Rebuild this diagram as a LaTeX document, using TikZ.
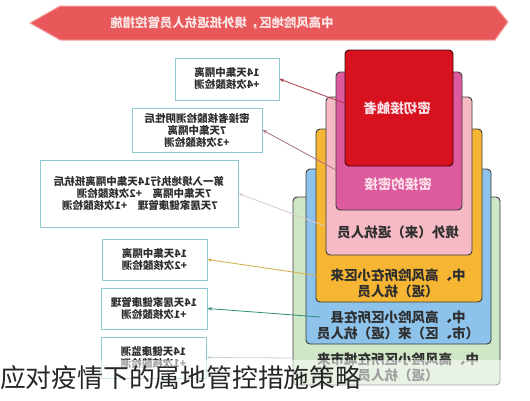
\documentclass[tikz,border=0pt]{standalone}
\usepackage{graphicx}
\usepackage{fontspec}
\newfontfamily\cjk{Noto Sans CJK SC}
\usetikzlibrary{arrows.meta}
\definecolor{bannerred}{HTML}{E8585A}
\definecolor{bannerline}{HTML}{F4A3A3}
\definecolor{titletxt}{HTML}{FBE6E6}
\definecolor{cred}{HTML}{D7111D}
\definecolor{cpink}{HTML}{DE5A9E}
\definecolor{clpink}{HTML}{F5BAC4}
\definecolor{corange}{HTML}{F6B634}
\definecolor{cblue}{HTML}{8DC2EB}
\definecolor{cgreen}{HTML}{CFE6C7}
\definecolor{nestline}{HTML}{3A3A3A}
\definecolor{lighttxt}{HTML}{FBE0E8}
\definecolor{darktxt}{HTML}{2E2E2E}
\definecolor{boxline}{HTML}{8FC9CF}
\definecolor{aone}{HTML}{A83A4A}
\definecolor{atwo}{HTML}{A8708A}
\definecolor{athree}{HTML}{DCC8CC}
\definecolor{afour}{HTML}{D6AC45}
\definecolor{afive}{HTML}{2F8C7C}
\definecolor{asix}{HTML}{C8D4DC}
\tikzset{
  nest/.style={draw=nestline, line width=0.9pt, rounded corners=4pt},
  leftbox/.style={draw=boxline, line width=0.9pt, fill=white, inner sep=0pt},
  lefttxt/.style={xscale=-1, font=\cjk\bfseries\fontsize{10.5}{12}\selectfont, text=darktxt, align=center, inner sep=0pt},
  nesttxt/.style={xscale=-1, font=\cjk\bfseries\fontsize{13.5}{16}\selectfont, align=center, inner sep=0pt},
  conn/.style={line width=0.8pt, -{Stealth[length=4.5pt,width=3.5pt]}}
}
\begin{document}
\begin{tikzpicture}[x=1pt,y=-1pt]
\useasboundingbox (0,0) rectangle (530,400);
\fill[white] (0,0) rectangle (530,400);
% title banner
\filldraw[fill=bannerred, draw=bannerline, line width=1pt]
  (30,23) -- (60,6) -- (495,6) -- (508,22) -- (495,40) -- (60,40) -- cycle;
\node[xscale=-1, font=\cjk\bfseries\fontsize{12.4}{14}\selectfont, text=titletxt, inner sep=0pt] (title) at (222,23) {中高风险地区，境外抵返杭人员管控措施};
% nested boxes
\path[nest, fill=cgreen]  (293,197) rectangle (500,385);
\path[nest, fill=cblue]   (306,169) rectangle (491,344);
\path[nest, fill=corange] (316,129) rectangle (482,302);
\path[nest, fill=clpink]  (326,97)  rectangle (472,255);
\path[nest, fill=cpink]   (336,72)  rectangle (462,210);
\path[nest, fill=cred, draw=black!70!cred] (345,50) rectangle (453,166);
\node[nesttxt, text=lighttxt] (t1) at (397,108) {密切接触者};
\node[nesttxt, text=lighttxt] (t2) at (398,184) {密接的密接};
\node[nesttxt, text=darktxt] (t3) at (398,232) {境外（来）返杭人员};
\node[nesttxt, text=darktxt] (t4) at (398,283.5) {中、高风险所在小区来\\（返）杭人员};
\node[nesttxt, text=darktxt] (t5) at (398,325) {中、高风险小区所在县\\（市、区）来（返）杭人员};
\node[nesttxt, text=darktxt] (t6) at (398,367) {中、高风险小区所在城市来\\（返）杭人员};
% left boxes
\node[leftbox, minimum width=104pt, minimum height=42pt] (b1) at (227,79) {};
\node[lefttxt] (l1) at (b1.center) {14天集中隔离\\+4次核酸检测};
\node[leftbox, minimum width=130pt, minimum height=44pt] (b2) at (197,130) {};
\node[lefttxt] (l2) at (b2.center) {密接者核酸检测阴性后\\7天集中隔离\\+3次核酸检测};
\node[leftbox, minimum width=198pt, minimum height=67pt] (b3) at (139,193.5) {};
\node[lefttxt, align=left] (l3) at (b3.center) {第一入境地执行14天集中隔离抵杭后\\\hspace*{1.2em}7天集中隔离\quad +2次核酸检测\\\hspace*{0.6em}7天居家健康管理\quad +1次核酸检测};
\node[leftbox, minimum width=105pt, minimum height=41pt] (b4) at (154.5,259.5) {};
\node[lefttxt] (l4) at (b4.center) {14天集中隔离\\+2次核酸检测};
\node[leftbox, minimum width=106pt, minimum height=41pt] (b5) at (154,308.5) {};
\node[lefttxt] (l5) at (b5.center) {14天居家健康管理\\+1次核酸检测};
\node[leftbox, minimum width=105pt, minimum height=41pt] (b6) at (153.5,357.5) {};
\node[lefttxt] (l6) at (b6.center) {14天健康监测\\+1次核酸检测};
% connectors
\coordinate (c1) at (344,103);
\coordinate (c2) at (336,170);
\coordinate (c3) at (325,226);
\coordinate (c4) at (320,276);
\coordinate (c5) at (320,317);
\coordinate (c6) at (300,358);
\draw[conn, aone] (c1) -- (b1.east);
\draw[conn, atwo] (c2) -- (b2.east);
\draw[conn, athree] (c3) -- (b3.east);
\draw[conn, afour] (c4) -- (b4.east);
\draw[conn, afive] (c5) -- (b5.east);
\draw[conn, asix] (c6) -- (b6.east);
% caption overlay
\fill[white, opacity=0.55] (0,360) rectangle (530,400);
\node[anchor=west, font=\cjk\fontsize{25.8}{28}\selectfont, text=black!85, inner sep=0pt] (cap) at (0,378) {应对疫情下的属地管控措施策略};
\end{tikzpicture}
\end{document}
